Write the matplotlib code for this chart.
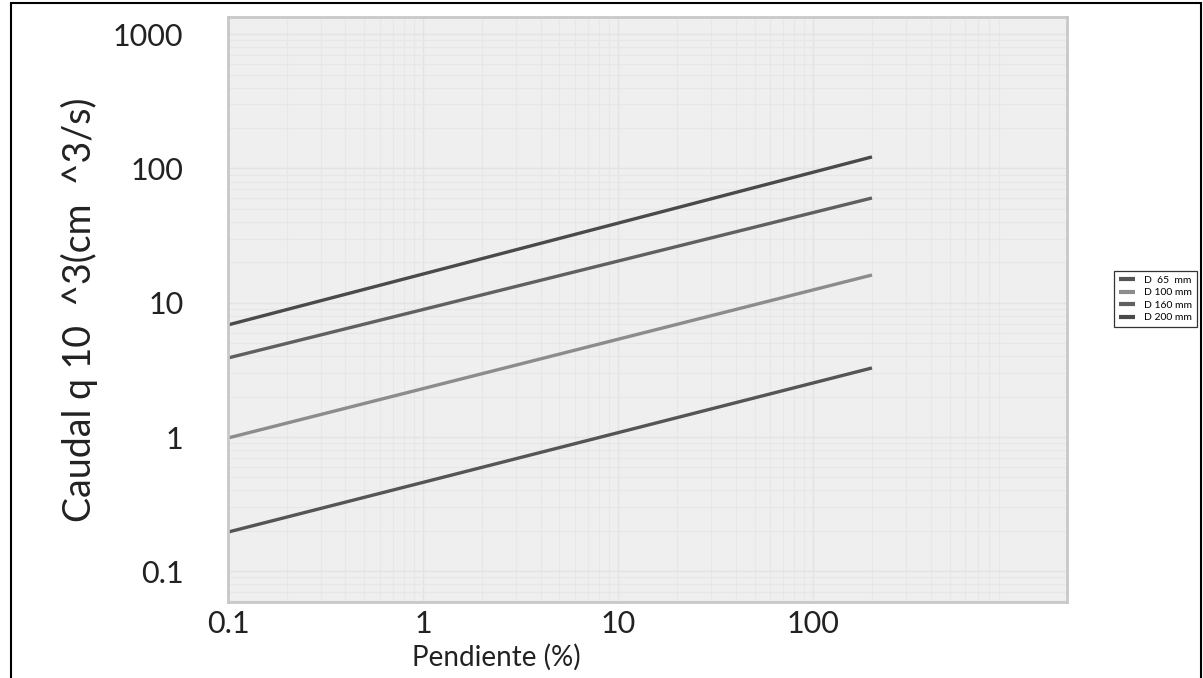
import matplotlib.pyplot as plt
from matplotlib.patches import Rectangle

# pendiente (%) en los extremos de cada curva
pendiente = [0.1, 200]

# caudal (x10^3 cm^3/s)
q_d65 = [0.196, 3.27]
q_d100 = [0.984, 16.1]
q_d160 = [3.88, 60.3]
q_d200 = [6.84, 122]

series = [q_d65, q_d100, q_d160, q_d200]
labels = ['D  65  mm', 'D 100 mm', 'D 160 mm', 'D 200 mm']
colors = ['#555555', '#8c8c8c', '#606060', '#4a4a4a']

xticks = [0.1, 1, 10, 100]
xticklabels = ['0.1', '1', '10', '100']
yticks = [0.1, 1, 10, 100, 1000]
yticklabels = ['0.1', '1', '10', '100', '1000']

plt.rcParams['font.family'] = ['Lato', 'DejaVu Sans']

fig = plt.figure(figsize=(12.03, 6.78), dpi=100)
ax = fig.add_axes([0.1895, 0.1121, 0.6975, 0.8628])
ax.set_facecolor('#efefef')

for i in range(4):
    ax.plot(pendiente, series[i], color=colors[i], lw=2.4, label=labels[i],
            solid_capstyle='butt')

ax.set_xscale('log')
ax.set_yscale('log')
ax.set_xlim(0.1, 2000)
ax.set_ylim(0.0591, 1343)

ax.set_xticks(xticks)
ax.set_xticklabels(xticklabels)
ax.set_yticks(yticks)
ax.set_yticklabels(yticklabels)
ax.minorticks_on()
ax.tick_params(which='both', length=0)
ax.tick_params(axis='x', labelsize=22, pad=6, colors='#222222')
ax.tick_params(axis='y', labelsize=22, pad=32, colors='#222222')

ax.grid(True, which='major', color='#e3e3e3', lw=1.0)
ax.grid(True, which='minor', color='#e7e7e7', lw=0.8)

for s in ax.spines.values():
    s.set_color('#c8c8c8')
    s.set_linewidth(2)

ax.set_xlabel('Pendiente (%)', fontsize=20, color='#222222')
ax.set_ylabel('Caudal q 10  ^3(cm  ^3/s)', fontsize=27, color='#222222')
ax.yaxis.set_label_coords(-0.155, 0.5)
ax.xaxis.set_label_coords(0.32, -0.072)

leg = fig.legend(loc='center right', bbox_to_anchor=(0.995, 0.559), fontsize=7.5,
                 frameon=True, fancybox=False, handlelength=1.6, borderpad=0.5,
                 labelspacing=0.3, handletextpad=0.8, borderaxespad=0)
leg.get_frame().set_edgecolor('black')
leg.get_frame().set_linewidth(0.9)
for h in leg.get_lines():
    h.set_linewidth(3)

# marco exterior de la figura
fig.patches.append(Rectangle((0.0095, -0.01), 0.989, 1.005, transform=fig.transFigure,
                             fill=False, edgecolor='black', lw=1.5))

fig.savefig('out.png', dpi=100)
